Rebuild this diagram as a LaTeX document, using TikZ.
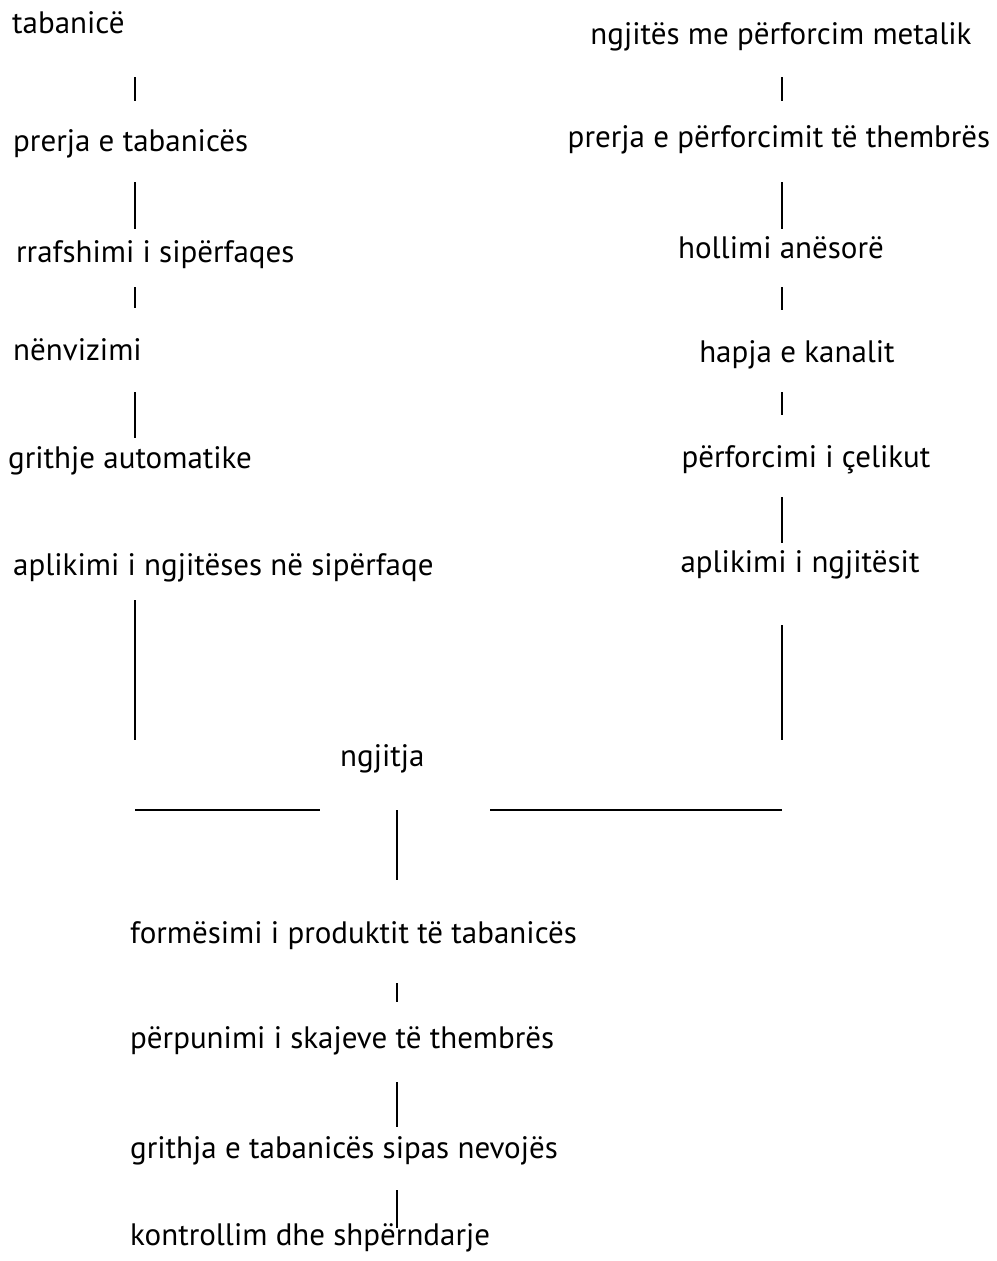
\documentclass[tikz,border=0pt]{standalone}
\usepackage{fontspec}
\setmainfont{PT Sans}
\usetikzlibrary{positioning}

\begin{document}
\begin{tikzpicture}[
    x=1pt, y=-1pt,
    stage/.style={inner sep=0pt, text height=22pt, text depth=6pt, font=\fontsize{31}{36}\selectfont},
    link/.style={line width=1.4pt}
]
\useasboundingbox (0,0) rectangle (996,1261);

% column axes
\coordinate (colL) at (135,0);
\coordinate (colR) at (782,0);
\coordinate (colM) at (397,0);
\coordinate (jL) at (135,810);
\coordinate (jR) at (782,810);

% left branch
\node[stage, anchor=base west] (tab) at (12,33) {tabanicë};
\node[stage, anchor=base west] (cutL) at (13,151) {prerja e tabanicës};
\node[stage, anchor=base west] (flat) at (16,262) {rrafshimi i sipërfaqes};
\node[stage, anchor=base west] (score) at (13,360) {nënvizimi};
\node[stage, anchor=base west] (rough) at (8,468) {grithje automatike};
\node[stage, anchor=base west] (glueL) at (13,575) {aplikimi i ngjitëses në sipërfaqe};

% right branch
\node[stage, anchor=base] (tabR) at (781,44) {ngjitës me përforcim metalik};
\node[stage, anchor=base] (cutR) at (779,147) {prerja e përforcimit të thembrës};
\node[stage, anchor=base] (thin) at (781,258) {hollimi anësorë};
\node[stage, anchor=base] (chan) at (797,362) {hapja e kanalit};
\node[stage, anchor=base] (steel) at (806,467) {përforcimi i çelikut};
\node[stage, anchor=base] (glueR) at (800,572) {aplikimi i ngjitësit};

% join and finishing
\node[stage, anchor=base west] (join) at (340,766) {ngjitja};
\node[stage, anchor=base west] (form) at (130,943) {formësimi i produktit të tabanicës};
\node[stage, anchor=base west] (edge) at (130,1048) {përpunimi i skajeve të thembrës};
\node[stage, anchor=base west] (trim) at (130,1158) {grithja e tabanicës sipas nevojës};
\node[stage, anchor=base west] (ctrl) at (130,1245) {kontrollim dhe shpërndarje};

% left connectors
\draw[link, shorten <=38pt, shorten >=28pt] (tab.south -| colL) -- (cutL.north -| colL);
\draw[link, shorten <=25pt, shorten >=11pt] (cutL.south -| colL) -- (flat.north -| colL);
\draw[link, shorten <=19pt, shorten >=30pt] (flat.south -| colL) -- (score.north -| colL);
\draw[link, shorten <=26pt, shorten >=8pt] (score.south -| colL) -- (rough.north -| colL);
\draw[link, shorten <=19pt, shorten >=70pt] (glueL.south -| colL) -- (jL);

% right connectors
\draw[link, shorten <=27pt, shorten >=24pt] (tabR.south -| colR) -- (cutR.north -| colR);
\draw[link, shorten <=29pt, shorten >=7pt] (cutR.south -| colR) -- (thin.north -| colR);
\draw[link, shorten <=23pt, shorten >=30pt] (thin.south -| colR) -- (chan.north -| colR);
\draw[link, shorten <=24pt, shorten >=30pt] (chan.south -| colR) -- (steel.north -| colR);
\draw[link, shorten <=24pt, shorten >=7pt] (steel.south -| colR) -- (glueR.north -| colR);
\draw[link, shorten <=47pt, shorten >=70pt] (glueR.south -| colR) -- (jR);

% joining lines
\draw[link, shorten >=20pt] (jL) -- (jL -| join.west);
\draw[link, shorten >=65pt] (jR) -- (jR -| join.east);
\draw[link, shorten <=38pt, shorten >=41pt] (join.south -| colM) -- (form.north -| colM);

% finishing connectors
\draw[link, shorten <=34pt, shorten >=24pt] (form.south -| colM) -- (edge.north -| colM);
\draw[link, shorten <=28pt, shorten >=9pt] (edge.south -| colM) -- (trim.north -| colM);
\draw[link, shorten <=26pt, shorten >=-5pt] (trim.south -| colM) -- (ctrl.north -| colM);

\end{tikzpicture}
\end{document}
